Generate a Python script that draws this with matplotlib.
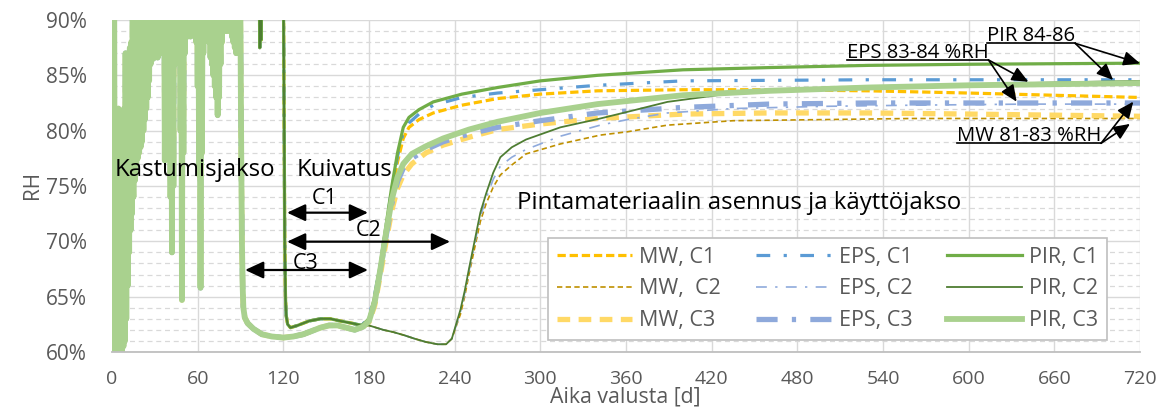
import matplotlib
matplotlib.use("Agg")
import matplotlib.pyplot as plt
from matplotlib.patches import ArrowStyle

plt.rcParams['font.family'] = ['Open Sans', 'DejaVu Sans']

# ---------------- data ----------------
# wetting period (shared by all cases): daily minimum at day d, maximum at day d+0.5
wet_low = [60, 60, 60, 60.5, 60, 61, 60.5, 60, 60.5, 61,
           63, 66, 69, 71, 72.5, 74, 75.5, 77, 77.5, 78,
           78.5, 79, 80, 81, 82, 83, 84.5, 86, 87, 86.5,
           87.5, 87, 86.6, 87.5, 88, 87, 88, 77.3, 87, 86,
           80, 74, 69, 75, 86, 88, 89, 87, 80, 64.7,
           78, 87, 88.5, 88.5, 89, 88.5, 89, 88.6, 89, 88,
           84, 76, 65.8, 78, 87, 89, 88.5, 89, 88, 86.6,
           86, 85, 84, 83, 81.4, 83, 86, 88, 89, 89,
           89.3, 89, 89.5, 89, 88.5, 88, 87.5, 87, 88.5, 89]
wet_high = [95, 95, 82, 81.5, 82, 80.5, 79.5, 81, 82, 87,
            86.8, 87, 87.5, 88, 95, 95, 95, 95, 95, 95,
            95, 95, 95, 95, 95, 95, 95, 95, 95, 95,
            95, 95, 95, 95, 95, 95, 95, 95, 95, 95,
            95, 95, 95, 95, 95, 95, 95, 95, 95, 95,
            95, 95, 95, 95, 95, 95, 95, 95, 95, 95,
            95, 95, 95, 95, 95, 95, 95, 95, 95, 95,
            95, 95, 95, 95, 95, 95, 95, 95, 95, 95,
            95, 95, 95, 95, 95, 95, 95, 95, 95, 95]

# C1 / C2: wetting continues until day 120
hold_days = [90, 103, 103.5, 104, 104.5, 105, 120]
hold_rh = [95, 95, 87.5, 95, 88.2, 95, 95]

# C3 drying (day 90 -> 180)
c3_dry_days = [90, 90.5, 91, 91.5, 92, 93, 95, 99, 105, 112, 120, 127, 134,
               140, 146, 152, 158, 164, 170, 176]
c3_dry_rh = [89, 78, 70, 66, 64, 63.1, 62.6, 62.1, 61.6, 61.4, 61.3, 61.4, 61.6,
             61.9, 62.2, 62.4, 62.4, 62.2, 62.0, 62.3]

# C1 / C2 drying (day 120 -> 180)
c12_dry_days = [120.5, 121, 121.5, 122, 123, 125, 130, 138, 146, 153, 160, 168, 175]
c12_dry_rh = [82, 70, 65, 63.3, 62.5, 62.2, 62.4, 62.8, 63.0, 63.0, 62.8, 62.6, 62.4]

# C2 drying continues (day 180 -> 240)
c2_dry_days = [180, 190, 197, 205, 212, 220, 228, 234, 238]
c2_dry_rh = [62.4, 62.0, 61.8, 61.5, 61.2, 60.9, 60.7, 60.7, 61.2]

# usage period
c1_days = [180, 184, 188, 192, 196, 200, 204, 208, 215, 225, 245, 270, 300, 340,
           400, 460, 530, 600, 660, 720]
mw_c1 = [62.9, 64.8, 67.7, 71.0, 74.3, 77.2, 79.3, 80.3, 81.0, 81.6, 82.3, 82.9,
         83.3, 83.6, 83.7, 83.7, 83.6, 83.4, 83.2, 83.0]
eps_c1 = [63.2, 65.2, 68.0, 71.4, 74.8, 77.7, 79.8, 80.7, 81.5, 82.3, 83.0, 83.4,
          83.7, 84.1, 84.5, 84.55, 84.6, 84.6, 84.6, 84.6]
pir_c1 = [63.0, 65.0, 68.0, 71.5, 75.0, 78.0, 80.3, 81.2, 81.9, 82.6, 83.3, 83.9,
          84.5, 85.0, 85.5, 85.7, 85.9, 86.0, 86.05, 86.1]

c2_days = [241, 244, 247, 250, 255, 258, 262, 267, 272, 280, 290, 314, 342, 361,
           389, 435, 500, 560, 640, 720]
mw_c2 = [62.3, 63.4, 65.0, 67.0, 70.0, 71.8, 73.4, 74.9, 76.0, 76.9, 77.9, 78.8,
         79.6, 79.9, 80.5, 80.9, 81.0, 81.1, 81.1, 81.1]
eps_c2 = [62.4, 63.6, 65.3, 67.3, 70.4, 72.2, 73.9, 75.6, 76.8, 77.6, 78.3, 79.5,
          80.5, 81.0, 81.6, 82.0, 82.2, 82.3, 82.4, 82.4]
pir_c2 = [62.5, 63.8, 65.5, 67.5, 70.7, 72.6, 74.3, 76.2, 77.6, 78.5, 79.2, 80.3,
          81.1, 81.7, 82.6, 83.4, 83.9, 84.1, 84.3, 84.5]

c3_days = [180, 184, 188, 192, 196, 200, 204, 210, 220, 232, 250, 270, 300, 340,
           400, 460, 530, 600, 660, 720]
mw_c3 = [62.7, 64.2, 67.0, 70.0, 72.8, 74.8, 76.0, 77.0, 78.0, 78.7, 79.4, 80.1,
         80.6, 81.1, 81.5, 81.6, 81.6, 81.5, 81.4, 81.3]
eps_c3 = [63.0, 64.6, 67.4, 70.5, 73.4, 75.4, 76.6, 77.5, 78.3, 79.0, 79.7, 80.3,
          80.9, 81.6, 82.1, 82.4, 82.5, 82.5, 82.5, 82.5]
pir_c3 = [62.8, 64.5, 67.5, 70.8, 73.8, 75.8, 77.0, 77.9, 78.6, 79.3, 80.1, 80.8,
          81.6, 82.4, 83.2, 83.6, 83.9, 84.1, 84.2, 84.3]

labels = ["MW, C1", "MW,  C2", "MW, C3", "EPS, C1", "EPS, C2", "EPS, C3",
          "PIR, C1", "PIR, C2", "PIR, C3"]
x_ticks = list(range(0, 721, 60))
y_ticks = list(range(60, 91, 5))

# ---------------- build series ----------------
wet_days, wet_rh = [], []
for d, (lo, hi) in enumerate(zip(wet_low, wet_high)):
    wet_days += [d, d + 0.5]
    wet_rh += [lo, hi]


def series(case, use_days, use_rh):
    if case == 3:
        t = wet_days + c3_dry_days + use_days
        v = wet_rh + c3_dry_rh + use_rh
    elif case == 1:
        t = wet_days + hold_days + c12_dry_days + use_days
        v = wet_rh + hold_rh + c12_dry_rh + use_rh
    else:
        t = wet_days + hold_days + c12_dry_days + c2_dry_days + use_days
        v = wet_rh + hold_rh + c12_dry_rh + c2_dry_rh + use_rh
    return t, v


styles = [
    (1, c1_days, mw_c1, dict(color='#FFC000', lw=2.3, ls=(0, (2.6, 1.2)))),
    (2, c2_days, mw_c2, dict(color='#BF9000', lw=1.2, ls=(0, (3.2, 2.0)))),
    (3, c3_days, mw_c3, dict(color='#FFD966', lw=3.8, ls=(0, (2.4, 1.6)))),
    (1, c1_days, eps_c1, dict(color='#5B9BD5', lw=2.3, ls=(0, (4.3, 4.2, 1, 4.2)))),
    (2, c2_days, eps_c2, dict(color='#8FAADC', lw=1.2, ls=(0, (6.5, 5, 1.4, 5)))),
    (3, c3_days, eps_c3, dict(color='#8EA9DB', lw=3.8, ls=(0, (4, 2.7, 0.8, 2.7)))),
    (1, c1_days, pir_c1, dict(color='#70AD47', lw=2.3, ls='-')),
    (2, c2_days, pir_c2, dict(color='#4E7D32', lw=1.3, ls='-')),
    (3, c3_days, pir_c3, dict(color='#A9D18E', lw=4.2, ls='-')),
]

# ---------------- figure ----------------
fig = plt.figure(figsize=(11.6, 4.09), dpi=100)
ax = fig.add_axes([112 / 1160, 1 - 352 / 409, 1028 / 1160, 332 / 409])

for (case, ud, ur, st), lab in zip(styles, labels):
    t, v = series(case, ud, ur)
    ax.plot(t, v, label=lab, solid_joinstyle='round', **st)

ax.set_xlim(0, 720)
ax.set_ylim(60, 90)
ax.set_xticks(x_ticks)
ax.set_yticks(y_ticks)
ax.set_yticks(list(range(60, 91)), minor=True)
ax.set_yticklabels([f"{y}%" for y in y_ticks])
ax.grid(which='major', color='#D9D9D9', lw=1.0)
ax.grid(which='minor', axis='y', color='#D9D9D9', lw=0.9, ls=(0, (4, 3)))
ax.set_axisbelow(True)
for s in ['left', 'right', 'top']:
    ax.spines[s].set_visible(False)
ax.spines['bottom'].set_color('#BFBFBF')
ax.spines['bottom'].set_linewidth(1.3)
ax.tick_params(which='both', length=0, labelcolor='#595959')
ax.tick_params(axis='x', pad=13, labelsize=14)
ax.tick_params(axis='y', pad=18, labelsize=15)

ax.set_xlabel("Aika valusta [d]", fontsize=15.3, color='#595959')
ax.xaxis.label.set_va('center')
ax.xaxis.set_label_coords((625 - 112) / 1028, (352 - 397) / 332)
ax.set_ylabel("RH", fontsize=15, color='#595959')
ax.yaxis.label.set_va('center')
ax.yaxis.set_label_coords((32 - 112) / 1028, (352 - 185) / 332)

leg = ax.legend(ncol=3, loc='upper left', bbox_to_anchor=(0.4241, 0.3434),
                borderaxespad=0, fontsize=15.5, frameon=True, fancybox=False,
                edgecolor='#BFBFBF', framealpha=1, handlelength=3.5,
                handletextpad=0.35, columnspacing=1.6, labelspacing=0.5,
                borderpad=0.4)
leg.get_frame().set_linewidth(1.2)
for txt in leg.get_texts():
    txt.set_color('#595959')

# ---------------- annotations ----------------
ax.text(2, 76.45, "Kastumisjakso", fontsize=17.3, va='center', ha='left', color='black')
ax.text(129.6, 76.45, "Kuivatus", fontsize=17.3, va='center', ha='left', color='black')
ax.text(283.7, 73.5, "Pintamateriaalin asennus ja käyttöjakso", fontsize=17.3,
        va='center', ha='left', color='black')
ax.text(149.2, 73.83, "C1", fontsize=15.5, ha='center', va='center', color='black')
ax.text(180.0, 71.0, "C2", fontsize=15.5, ha='center', va='center', color='black')
ax.text(135.9, 68.04, "C3", fontsize=15.5, ha='center', va='center', color='black')

dbl = ArrowStyle('<|-|>', head_length=0.56, head_width=0.26)
for x0, x1, y in [(122.6, 179.3, 72.59), (122.6, 236.8, 69.97), (93.2, 179.3, 67.41)]:
    ax.annotate('', xy=(x1, y), xytext=(x0, y),
                arrowprops=dict(arrowstyle=dbl, color='black', lw=1.6,
                                mutation_scale=20, shrinkA=0, shrinkB=0))

one = ArrowStyle('-|>', head_length=0.5, head_width=0.22)
notes = [
    ("PIR 84-86", 612.9, 88.13, 87.89, [(720.0, 86.08), (701.2, 84.58)]),
    ("EPS 83-84 %RH", 514.6, 86.58, 86.39, [(641.8, 84.42), (633.6, 82.62)]),
    ("MW 81-83 %RH", 591.6, 79.10, 78.86, [(715.3, 82.62), (713.0, 80.61)]),
]
fig.canvas.draw()
inv = ax.transData.inverted()
for txt, x, yb, yu, targets in notes:
    t = ax.text(x, yb, txt, fontsize=14.6, ha='left', va='baseline', color='black')
    bb = t.get_window_extent(renderer=fig.canvas.get_renderer())
    xr = inv.transform((bb.x1, bb.y0))[0]
    ax.plot([x, xr], [yu, yu], color='black', lw=1.2, clip_on=False)
    for tx, ty in targets:
        ax.annotate('', xy=(tx, ty), xytext=(xr, yu),
                    arrowprops=dict(arrowstyle=one, color='black', lw=1.2,
                                    mutation_scale=20, shrinkA=0, shrinkB=0),
                    annotation_clip=False)

fig.savefig("out.png", dpi=100)
